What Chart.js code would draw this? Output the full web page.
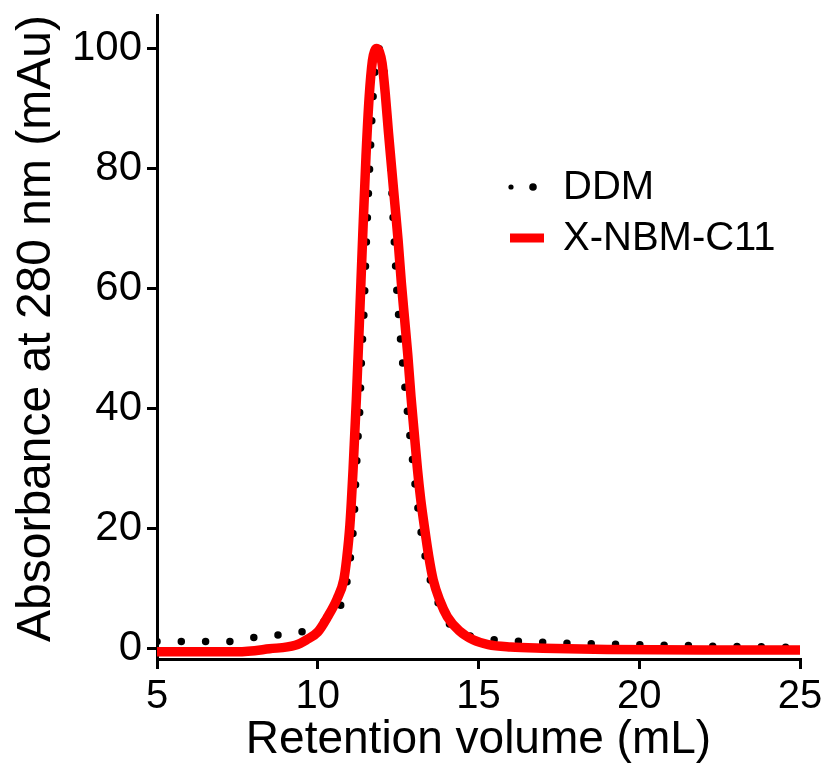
<!DOCTYPE html>
<html>
<head>
<meta charset="utf-8">
<script src="https://cdn.jsdelivr.net/npm/chart.js@4.4.1/dist/chart.umd.min.js"></script>
<style>
  html, body { margin: 0; padding: 0; background: #fff; }
  #wrap { width: 830px; height: 780px; position: relative; }
</style>
</head>
<body>
<div id="wrap"><canvas id="c"></canvas></div>
<script>
// ---- data ----
const seriesNames = ['DDM', 'X-NBM-C11'];
const xTickValues = [5, 10, 15, 20, 25];
const yTickValues = [0, 20, 40, 60, 80, 100];

const ddmVolume = [5.0, 5.77, 6.53, 7.29, 8.03, 8.79, 9.53, 10.16, 10.74, 10.92, 11.02, 11.10, 11.15, 11.18,
  11.22, 11.26, 11.31, 11.36, 11.44, 11.49, 11.55, 11.62, 11.69, 11.76, 11.84, 11.92, 12.00, 12.10,
  12.20, 12.28, 12.35, 12.43, 12.47, 12.53, 12.59, 12.66, 12.73, 12.81, 12.89, 12.97, 13.05, 13.15,
  13.25, 13.39, 13.57, 13.80, 14.00, 14.37, 15.05, 15.80, 16.57, 17.33, 18.08, 18.85, 19.60, 20.37,
  21.12, 21.88, 22.64, 23.40, 24.15, 25.0];
const ddmAbs = [1.2, 1.2, 1.2, 1.2, 1.9, 2.3, 2.85, 4.4, 7.6, 11.5, 15.35, 19.5, 23.7, 27.85,
  31.75, 35.9, 40.1, 48.1, 56.35, 64.5, 72.6, 80.9, 89.0, 95.0, 99.0, 100.0, 98.5, 94.0,
  86.5, 79.0, 71.0, 62.85, 58.7, 54.6, 50.6, 46.5, 42.5, 38.4, 34.25, 30.35, 26.2, 22.1,
  18.1, 14.1, 10.1, 7.0, 4.8, 2.9, 1.85, 1.35, 1.2, 1.0, 0.9, 0.8, 0.75, 0.6,
  0.6, 0.5, 0.4, 0.35, 0.3, 0.25];

const nbmVolume = [5.0, 6.5, 7.5, 8.5, 9.3, 9.65, 10.0, 10.31, 10.6, 10.81, 10.9, 11.0, 11.1, 11.2,
  11.3, 11.4, 11.5, 11.6, 11.7, 11.77, 11.84, 11.92, 12.0, 12.1, 12.2, 12.3, 12.4, 12.5,
  12.6, 12.7, 12.8, 12.9, 13.0, 13.1, 13.2, 13.31, 13.45, 13.59, 13.8, 14.03, 14.4, 14.83,
  15.3, 16.0, 17.0, 19.0, 22.0, 25.0];
const nbmAbs = [-0.5, -0.5, -0.5, 0.0, 0.6, 1.5, 2.8, 5.35, 8.3, 11.5, 15.0, 20.6, 30.0, 41.5,
  55.0, 69.0, 82.0, 92.0, 98.0, 99.6, 100.0, 99.4, 97.6, 92.5, 86.0, 80.0, 74.0, 68.0,
  61.0, 55.0, 49.0, 42.0, 36.0, 30.0, 25.0, 20.6, 15.5, 11.5, 8.0, 5.35, 3.0, 1.5,
  0.7, 0.3, 0.1, -0.1, -0.2, -0.2];

const toPoints = (xs, ys) => xs.map((x, i) => ({ x: x, y: ys[i] }));

const FONT = "'Liberation Sans', Arial, sans-serif";

const legendPlugin = {
  id: 'customLegend',
  afterDraw(chart) {
    const ctx = chart.ctx;
    const ds = chart.data.datasets;
    ctx.save();
    ctx.font = '40px ' + FONT;
    ctx.textBaseline = 'middle';
    ctx.textAlign = 'left';
    // DDM sample: dotted
    ctx.fillStyle = ds[0].borderColor;
    ctx.beginPath(); ctx.arc(511, 187, 2.6, 0, Math.PI * 2); ctx.fill();
    ctx.beginPath(); ctx.arc(533, 187, 3.8, 0, Math.PI * 2); ctx.fill();
    ctx.fillStyle = '#000';
    ctx.fillText(ds[0].label, 563, 188);
    // X-NBM-C11 sample: solid red
    ctx.strokeStyle = ds[1].borderColor;
    ctx.lineWidth = 9;
    ctx.beginPath(); ctx.moveTo(510, 238); ctx.lineTo(544, 238); ctx.stroke();
    ctx.fillStyle = '#000';
    ctx.fillText(ds[1].label, 563, 239);
    ctx.restore();
  }
};

new Chart(document.getElementById('c'), {
  type: 'line',
  data: {
    datasets: [
      {
        label: seriesNames[0],
        data: toPoints(ddmVolume, ddmAbs),
        borderColor: '#000000',
        borderWidth: 7.5,
        borderDash: [0, 24.3],
        borderCapStyle: 'round',
        cubicInterpolationMode: 'monotone',
        pointRadius: 0,
        fill: false,
        order: 2
      },
      {
        label: seriesNames[1],
        data: toPoints(nbmVolume, nbmAbs),
        borderColor: '#ff0000',
        borderWidth: 9.5,
        borderJoinStyle: 'round',
        cubicInterpolationMode: 'monotone',
        pointRadius: 0,
        fill: false,
        order: 1
      }
    ]
  },
  options: {
    responsive: true,
    maintainAspectRatio: false,
    animation: false,
    events: [],
    layout: { padding: { top: 15, right: 30, left: 0, bottom: 0 } },
    plugins: { legend: { display: false }, tooltip: { enabled: false } },
    scales: {
      x: {
        type: 'linear',
        min: 5, max: 25,
        afterBuildTicks: s => { s.ticks = xTickValues.map(v => ({ value: v })); },
        afterFit: s => { s.height = 121; s.paddingLeft = 0; s.paddingRight = 0; },
        border: { display: true, color: '#000', width: 3 },
        grid: { drawOnChartArea: false, color: '#000', lineWidth: 3, tickLength: 10 },
        ticks: { color: '#000', font: { family: FONT, size: 40 }, padding: 4, maxRotation: 0, autoSkip: false },
        title: { display: true, text: 'Retention volume (mL)', color: '#000',
                 font: { family: FONT, size: 46 }, padding: { top: 0, bottom: 12 } }
      },
      y: {
        type: 'linear',
        min: -1.7, max: 105.6,
        afterBuildTicks: s => { s.ticks = yTickValues.map(v => ({ value: v })); },
        afterFit: s => { s.width = 157; s.paddingTop = 0; s.paddingBottom = 0; },
        border: { display: true, color: '#000', width: 3 },
        grid: { drawOnChartArea: false, color: '#000', lineWidth: 3, tickLength: 10 },
        ticks: { color: '#000', font: { family: FONT, size: 42 }, padding: 5, autoSkip: false },
        title: { display: true, text: 'Absorbance at 280 nm (mAu)', color: '#000', align: 'end',
                 font: { family: FONT, size: 48 }, padding: { top: 8, bottom: 0 } }
      }
    }
  },
  plugins: [legendPlugin]
});
</script>
</body>
</html>
